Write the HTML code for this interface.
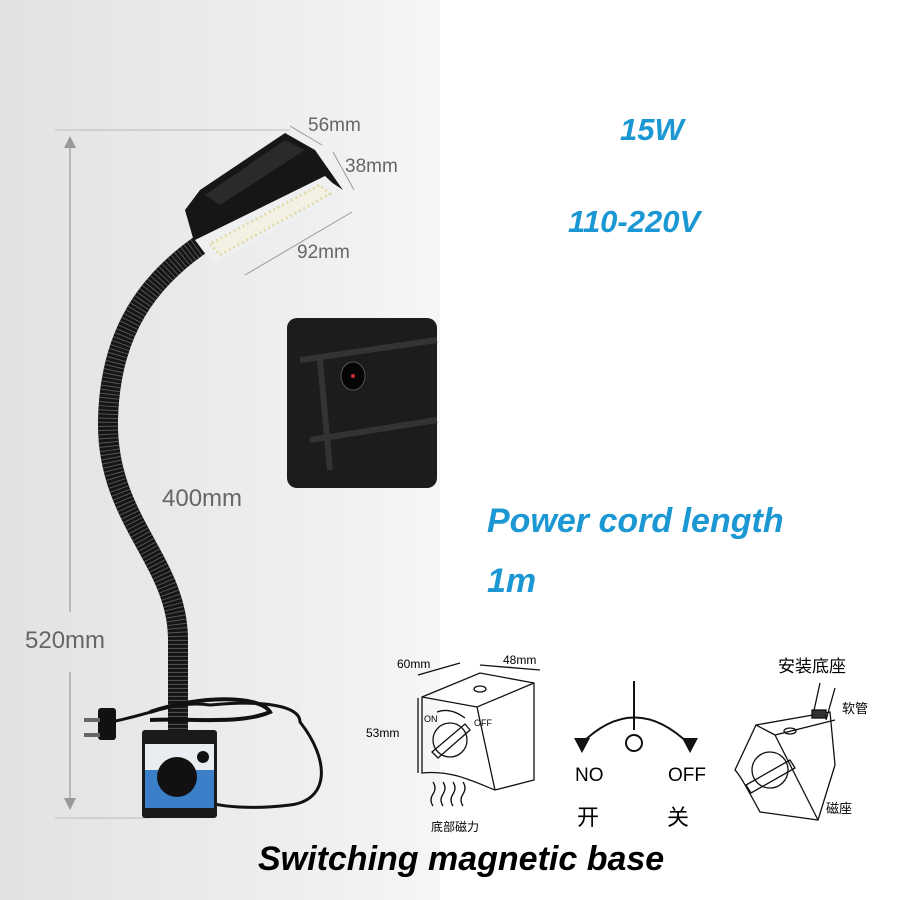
<!DOCTYPE html>
<html><head><meta charset="utf-8"><style>
body{margin:0;width:900px;height:900px;overflow:hidden;background:#fff;position:relative;font-family:"Liberation Sans","Noto Sans CJK SC",sans-serif}
.bg{position:absolute;left:0;top:0;width:440px;height:900px;background:linear-gradient(90deg,#e2e2e2,#efefef 70%,#f6f6f6)}
.t{position:absolute;white-space:nowrap}
.b{color:#1b97d3;font-weight:bold;font-style:italic}
</style></head><body>
<div class="bg"></div>
<svg width="900" height="900" style="position:absolute;left:0;top:0">
<!-- dimension lines -->
<line x1="70" y1="140" x2="70" y2="612" stroke="#999" stroke-width="1.2"/>
<line x1="70" y1="672" x2="70" y2="805" stroke="#999" stroke-width="1.2"/>
<path d="M64,148 L70,136 L76,148" fill="#999"/>
<path d="M64,798 L70,810 L76,798" fill="#999"/>
<line x1="55" y1="130" x2="290" y2="130" stroke="#bbb"/>
<line x1="55" y1="818" x2="150" y2="818" stroke="#bbb"/>
<line x1="290" y1="126" x2="322" y2="145" stroke="#999"/>
<line x1="333" y1="152" x2="354" y2="190" stroke="#999"/>
<line x1="245" y1="275" x2="352" y2="212" stroke="#999"/>
<!-- gooseneck -->
<path d="M200,245 C150,280 110,330 108,420 C106,520 178,560 178,640 L178,735" fill="none" stroke="#151515" stroke-width="20"/>
<path d="M200,245 C150,280 110,330 108,420 C106,520 178,560 178,640 L178,735" fill="none" stroke="#555" stroke-width="20" stroke-dasharray="1 3"/>
<!-- head -->
<polygon points="185,210 195,245 325,178 343,190 315,150 285,133 200,190" fill="#161616"/>
<polygon points="205,195 285,140 305,150 220,205" fill="#2a2a2a"/>
<polygon points="195,240 213,264 343,193 325,176" fill="#eef0f2"/>
<polygon points="210,244 220,255 330,194 320,185" fill="#f3f1e4" stroke="#e2dcaa" stroke-dasharray="2 3" stroke-width="3"/>
<!-- cord -->
<path d="M110,722 C150,715 175,700 210,705 C260,700 300,705 300,722 C330,760 330,800 290,805 C250,810 220,806 212,803" fill="none" stroke="#111" stroke-width="3"/>
<path d="M150,712 C200,695 260,695 270,712 C240,725 190,718 150,720" fill="none" stroke="#111" stroke-width="4"/>
<rect x="98" y="708" width="18" height="32" rx="3" fill="#111"/>
<rect x="84" y="718" width="16" height="4" fill="#666"/>
<rect x="84" y="733" width="16" height="4" fill="#666"/>
<!-- base -->
<rect x="142" y="730" width="75" height="88" rx="3" fill="#1a1a1a"/>
<rect x="145" y="744" width="69" height="64" fill="#3a7fc8"/>
<rect x="145" y="744" width="69" height="26" fill="#e9edf2"/>
<circle cx="177" cy="777" r="20" fill="#111"/>
<circle cx="203" cy="757" r="6" fill="#111"/>
<!-- inset -->
<rect x="287" y="318" width="150" height="170" rx="10" fill="#1c1c1c"/>
<path d="M300,360 L437,340 M310,440 L437,420 M320,360 L330,470" stroke="#333" stroke-width="6" fill="none"/>
<ellipse cx="353" cy="376" rx="12" ry="14" fill="#050505" stroke="#555"/>
<circle cx="353" cy="376" r="2" fill="#c33"/>
<!-- cube 1 -->
<g fill="none" stroke="#111" stroke-width="1.3">
<path d="M422,697 L480,673 L534,683 L534,780 L495,790 C470,780 450,770 422,773 Z"/>
<path d="M422,697 L477,707 L534,683 M477,707 L495,790"/>
<ellipse cx="480" cy="689" rx="6" ry="3"/>
<circle cx="450" cy="740" r="17"/>
<path d="M432,752 L465,724 L470,730 L438,758 Z"/>
<path d="M437,712 Q450,707 465,718"/>
<path d="M418,698 L418,773 M418,675 L460,663 M480,665 L540,670"/>
<path d="M433,782 q4,6 0,12 q-4,6 0,12 M443,782 q4,6 0,12 q-4,6 0,12 M453,782 q4,6 0,12 q-4,6 0,12 M463,782 q4,6 0,12 q-4,6 0,12"/>
</g>
<!-- switch symbol -->
<g fill="none" stroke="#111" stroke-width="2">
<line x1="634" y1="681" x2="634" y2="730"/>
<circle cx="634" cy="743" r="8"/>
<path d="M580,745 Q634,690 690,745"/>
</g>
<path d="M574,738 L590,738 L582,753 Z M682,738 L698,738 L690,753 Z" fill="#111"/>
<!-- cube 2 -->
<g fill="none" stroke="#111" stroke-width="1.3">
<path d="M756,725 L830,712 L835,765 L818,820 L760,812 C748,790 740,775 735,770 Z"/>
<path d="M756,725 L775,735 L835,720 M775,735 L818,820"/>
<circle cx="770" cy="770" r="18"/>
<path d="M746,785 L790,760 L795,768 L751,793 Z"/>
<path d="M820,683 L813,715 M835,688 L826,720"/>
<rect x="812" y="710" width="14" height="8" fill="#333"/>
<ellipse cx="790" cy="731" rx="6" ry="3"/>
</g>
</svg>
<div class="t" style="left:308px;top:115px;font-size:19px;color:#666">56mm</div>
<div class="t" style="left:345px;top:156px;font-size:19px;color:#666">38mm</div>
<div class="t" style="left:297px;top:242px;font-size:19px;color:#666">92mm</div>
<div class="t" style="left:162px;top:485px;font-size:24px;color:#666">400mm</div>
<div class="t" style="left:25px;top:627px;font-size:24px;color:#666">520mm</div>
<div class="t b" style="left:620px;top:112px;font-size:31px">15W</div>
<div class="t b" style="left:568px;top:204px;font-size:31px">110-220V</div>
<div class="t b" style="left:487px;top:502px;font-size:34px">Power cord length</div>
<div class="t b" style="left:487px;top:562px;font-size:34px">1m</div>
<div class="t" style="left:397px;top:657px;font-size:12px">60mm</div>
<div class="t" style="left:503px;top:653px;font-size:12px">48mm</div>
<div class="t" style="left:366px;top:726px;font-size:12px">53mm</div>
<div class="t" style="left:424px;top:714px;font-size:9px">ON</div>
<div class="t" style="left:474px;top:718px;font-size:9px">OFF</div>
<div class="t" style="left:431px;top:818px;font-size:12px">底部磁力</div>
<div class="t" style="left:575px;top:765px;font-size:19px">NO</div>
<div class="t" style="left:668px;top:765px;font-size:19px">OFF</div>
<div class="t" style="left:577px;top:800px;font-size:22px">开</div>
<div class="t" style="left:667px;top:800px;font-size:22px">关</div>
<div class="t" style="left:778px;top:652px;font-size:17px">安装底座</div>
<div class="t" style="left:842px;top:698px;font-size:13px">软管</div>
<div class="t" style="left:826px;top:798px;font-size:13px">磁座</div>
<div class="t" style="left:258px;top:840px;font-size:34px;font-weight:bold;font-style:italic;color:#000">Switching magnetic base</div>
</body></html>
